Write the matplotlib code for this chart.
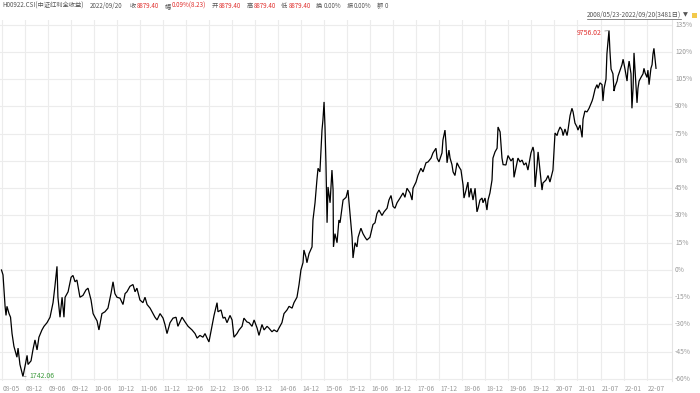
import numpy as np
import matplotlib
matplotlib.use("Agg")
import matplotlib.pyplot as plt
from matplotlib.lines import Line2D
from matplotlib.patches import Rectangle

plt.rcParams['font.family'] = ['Noto Sans CJK SC', 'DejaVu Sans']

# trading-day number (0 = 2008/05/23) and change versus first close, in %
day = [0, 8, 19, 24, 29, 40, 48, 56, 66, 82, 88, 98, 114, 125, 136, 141, 157, 167, 178, 189,
       199, 215, 226, 242, 258, 274, 284, 295, 300, 311, 322, 332, 338, 354, 370, 380, 391, 401, 417, 433,
       449, 460, 476, 487, 497, 508, 518, 534, 550, 566, 582, 593, 603, 614, 630, 646, 657, 667, 683, 699,
       710, 720, 736, 752, 763, 774, 790, 806, 816, 827, 843, 859, 869, 880, 896,
       912, 928, 938, 960, 976, 992, 1013, 1029, 1040, 1055, 1071, 1082, 1093, 1103, 1119, 1130, 1146, 1151, 1167, 1178,
       1188, 1199, 1215, 1226, 1236, 1252, 1263, 1279, 1289, 1305, 1316, 1332, 1343, 1359, 1369, 1385, 1396, 1412, 1422, 1438,
       1449, 1465, 1475, 1491, 1502, 1518, 1529, 1545, 1555, 1571, 1582, 1592, 1603, 1608, 1619, 1624, 1635, 1651, 1656, 1667,
       1677, 1683, 1693, 1704, 1709, 1715, 1720, 1725, 1731, 1736, 1747, 1757, 1763, 1765, 1773, 1784, 1794,
       1800, 1816, 1832, 1842, 1853, 1864, 1869, 1880, 1890, 1896, 1911, 1922, 1933, 1943, 1959, 1975, 1986, 1996, 2007, 2023,
       2034, 2050, 2060, 2071, 2082, 2092, 2103, 2119, 2135, 2145, 2156, 2172, 2183, 2188, 2204, 2214, 2230, 2241, 2257, 2268,
       2284, 2294, 2310, 2316, 2326, 2342, 2347, 2358, 2363, 2369, 2379, 2385, 2395, 2401, 2411, 2422, 2433, 2443, 2454, 2459,
       2470, 2480, 2486, 2496, 2507, 2518, 2528, 2534, 2544, 2555, 2560, 2571, 2581, 2587, 2597, 2608, 2613, 2624, 2635, 2640,
       2651, 2661, 2667, 2682, 2693,
       2709, 2720, 2725, 2736, 2746, 2757, 2768, 2778, 2789, 2799, 2815, 2826, 2831, 2837, 2847, 2853, 2863, 2874, 2879, 2895,
       2906, 2916, 2927, 2932, 2943, 2954, 2959, 2970, 2980, 2986, 2996, 3007, 3012, 3023, 3033, 3039, 3049, 3060, 3065, 3076,
       3087, 3092, 3102, 3113, 3124, 3140, 3145, 3156, 3166, 3172, 3182, 3193, 3198, 3204, 3214, 3219, 3230, 3235, 3241, 3251,
       3257, 3262, 3273, 3278, 3289, 3299, 3305, 3315, 3326, 3331, 3337, 3347, 3352, 3358, 3363, 3368, 3379, 3384, 3390, 3400,
       3411, 3416, 3422, 3432, 3437, 3443, 3453, 3459, 3464, 3469, 3475, 3480]
pct = [0, -2.7, -20, -25, -20, -24, -26, -35, -42, -48, -43, -52, -58.6, -53, -47, -52, -50, -44, -38.5, -44,
       -37, -33, -31, -29, -26, -18, -9, 2, -15, -26, -15, -26, -15, -12, -4, -3, -6.5, -5.5, -15, -14,
       -11, -10, -16.5, -24, -26, -28, -33, -24, -23, -21, -13, -6.5, -13, -15, -15.5, -19, -13, -12, -9, -8,
       -12, -10, -16.5, -18, -15, -19, -21, -24, -26, -27.5, -24, -26.5, -30, -35, -29,
       -26.5, -26, -31, -26, -28.6, -31, -33, -35, -37.5, -36, -37, -35, -37.5, -39.6, -31, -25, -18, -23, -22, -26.5,
       -26, -29, -25, -27.5, -37, -35, -33, -31, -26.5, -28.6, -29, -31, -27.5, -32, -36, -30, -33, -31, -32, -34,
       -33, -34, -32, -29, -24, -22, -20, -21, -18, -15, -8, 0, 4, 11, 7, 4, 9, 12.7, 27.5, 37,
       49.5, 56, 54, 77, 82.5, 92.5, 78.7, 59, 26, 45.7, 37, 55, 44, 12.7, 20, 15, 27.5,
       26, 38.5, 40, 44, 31, 18, 6.6, 15, 12.7, 18, 23, 20, 18, 16.5, 18, 25, 26, 31, 33, 30,
       32, 34, 38.5, 41, 35, 34, 37, 39.6, 42.4, 40, 45, 42.4, 38.5, 45, 48.4, 52, 56, 54, 59, 59.5,
       61.6, 64.4, 67, 61.6, 59.5, 64.4, 71.5, 77, 70, 59, 66, 61.6, 58, 54, 52, 59, 56.7, 55, 46.8, 39.6,
       44, 48.4, 40, 45, 38.5, 45, 32, 34, 38.5, 39.6, 37, 39.6, 33, 38.5, 42.4, 49.5, 61.6, 65, 67, 78.7,
       76, 61.6, 58, 57.8, 63,
       60, 61.6, 51, 56.7, 61.6, 59.5, 60.5, 57.8, 59, 55, 64.4, 67.7, 65, 45.7, 56.7, 65, 55, 44, 47.9, 49.5,
       52, 48.4, 53, 55, 75.4, 74, 76, 78.7, 77, 74, 77.6, 74, 77, 85, 89, 87, 80.9, 78.7, 77, 79.8,
       73, 83, 87.5, 87, 89, 93, 94.7, 99.6, 102, 100, 103, 102, 93, 100, 105, 119, 131.8, 120.5, 110.6, 108,
       98.5, 101, 104, 106.7, 110, 113, 116, 110.6, 104, 110.6, 115, 108, 89, 100, 119.5, 111, 92, 100, 104, 106,
       108, 111, 108.5, 106, 110, 102, 111, 113, 119, 122, 116, 111]

tick_labels = ['08-05', '08-12', '09-06', '09-12', '10-06', '10-12', '11-06', '11-12', '12-06', '12-12',
               '13-06', '13-12', '14-06', '14-12', '15-06', '15-12', '16-06', '16-12', '17-06', '17-12',
               '18-06', '18-12', '19-06', '19-12', '20-07', '21-01', '21-07', '22-01', '22-07']
tick_step = 122.5
y_levels = [135, 120, 105, 90, 75, 60, 45, 30, 15, 0, -15, -30, -45, -60]

max_label = '9756.02'
min_label = '1742.06'

# header groups: (label, value, value colour)
header = [('H00922.CSI(中证红利全收益)', '', None), ('2022/09/20', '', None),
          ('收', '8879.40', '#e0302e'), ('幅', '0.09%(8.23)', '#e0302e'),
          ('开', '8879.40', '#e0302e'), ('高', '8879.40', '#e0302e'),
          ('低', '8879.40', '#e0302e'), ('换', '0.00%', '#555555'),
          ('振', '0.00%', '#555555'), ('额', '0', '#555555')]
date_range = '2008/05/23-2022/09/20(3481日)'

W, H = 700, 393
fig = plt.figure(figsize=(7, 3.93), dpi=100)
ax = fig.add_axes([0, 1 - 381 / H, 672 / W, (381 - 20) / H])

ax.plot(day, pct, color='black', lw=0.9, solid_joinstyle='miter')

ax.set_xlim(-8, 3565)
ax.set_ylim(-61.1, 137.6)

ticks = np.arange(len(tick_labels)) * tick_step
ax.set_xticks(ticks)
ax.set_xticklabels([])
ax.set_yticks(y_levels)
ax.set_yticklabels([])
ax.tick_params(length=0)
ax.grid(True, color='#ececec', lw=0.8)
for s in ['top', 'left', 'bottom']:
    ax.spines[s].set_visible(False)
ax.spines['right'].set_color('#e4e4e4')
ax.spines['right'].set_linewidth(0.8)

# x labels, left aligned at tick
for t, lab in zip(ticks, tick_labels):
    ax.annotate(lab, xy=(t, 0), xycoords=('data', 'axes fraction'), xytext=(1, -4),
                textcoords='offset pixels', ha='left', va='top', fontsize=4.8, color='#999999')

# right percent labels
for lv in y_levels:
    ax.annotate(f'{lv}%', xy=(1, lv), xycoords=('axes fraction', 'data'), xytext=(3, 0),
                textcoords='offset pixels', ha='left', va='center', fontsize=4.8, color='#999999')

imax = int(np.argmax(pct))
imin = int(np.argmin(pct))
ax.annotate(max_label, xy=(day[imax], pct[imax]), xytext=(-7, -2), textcoords='offset pixels',
            ha='right', va='center', fontsize=5, color='#e0302e',
            arrowprops=dict(arrowstyle='-', color='#999999', lw=0.6, shrinkA=0, shrinkB=0))
ax.annotate(min_label, xy=(day[imin], pct[imin]), xytext=(6, 0), textcoords='offset pixels',
            ha='left', va='center', fontsize=5, color='#3c9a3c',
            arrowprops=dict(arrowstyle='-', color='#999999', lw=0.6, shrinkA=0, shrinkB=0))

renderer = fig.canvas.get_renderer()
hy = 1 - 6 / H
x = 2.0
for lab, val, col in header:
    t = fig.text(x / W, hy, lab, ha='left', va='center', fontsize=4.5, color='#555555')
    x = t.get_window_extent(renderer).x1 + 1
    if val:
        t = fig.text(x / W, hy, val, ha='left', va='center', fontsize=4.5, color=col)
        x = t.get_window_extent(renderer).x1
    x += 5.5

dr = fig.text(681 / W, 1 - 15 / H, date_range, ha='right', va='center', fontsize=4.6, color='#555555')
bb = dr.get_window_extent(renderer)
x0, x1 = bb.x0 / W, bb.x1 / W
yu = (bb.y0 - 0.3) / H
fig.add_artist(Line2D([x0, x1], [yu, yu], transform=fig.transFigure, color='#555555', lw=0.5))
fig.text(683 / W, 1 - 15 / H, '▼', ha='left', va='center', fontsize=4.6, color='#555555',
         family=['DejaVu Sans'])
fig.add_artist(Rectangle((692 / W, 1 - 18 / H), 5 / W, 5 / H, transform=fig.transFigure,
                         color='#f2c94c', lw=0))

fig.savefig('out.png', dpi=100)
